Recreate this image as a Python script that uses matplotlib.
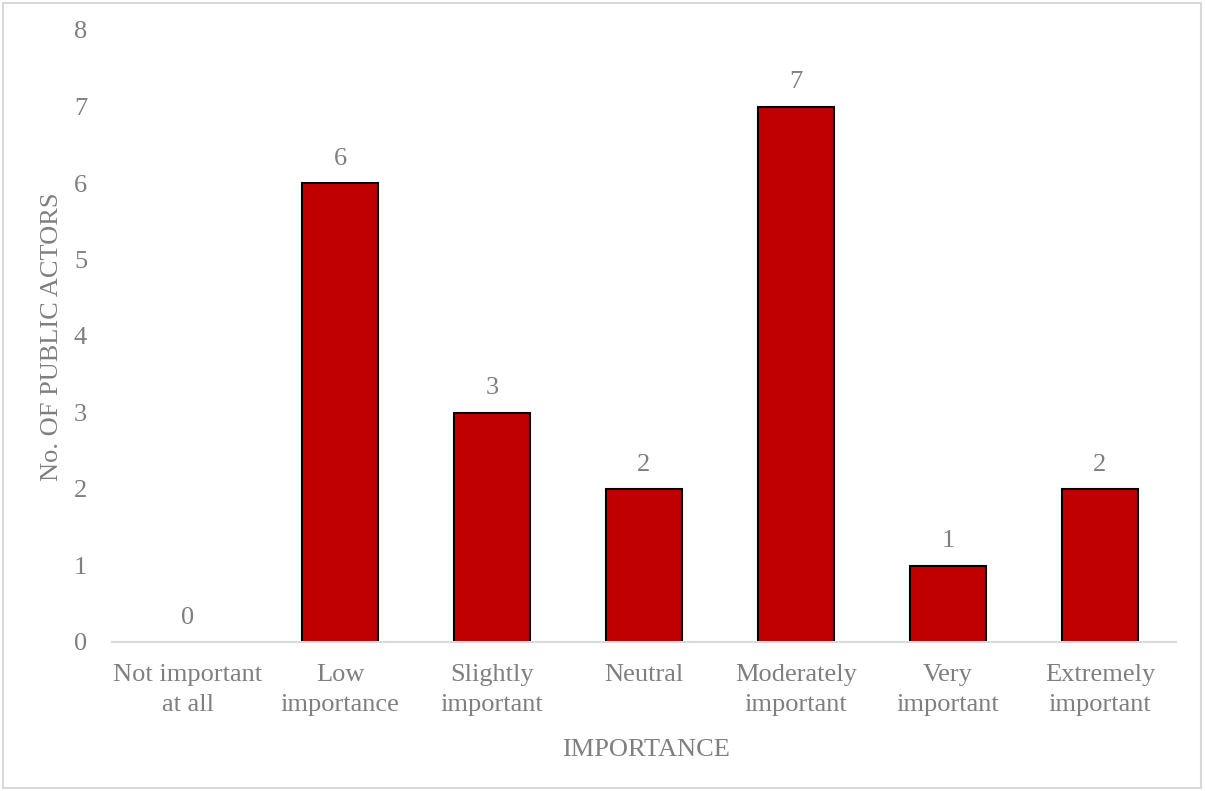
import matplotlib
matplotlib.use("Agg")
import matplotlib.pyplot as plt
from matplotlib.patches import Rectangle

categories = ["Not important\nat all", "Low\nimportance", "Slightly\nimportant",
              "Neutral", "Moderately\nimportant", "Very\nimportant", "Extremely\nimportant"]
counts = [0, 6, 3, 2, 7, 1, 2]
y_ticks = [0, 1, 2, 3, 4, 5, 6, 7, 8]

plt.rcParams["font.family"] = ["Liberation Serif", "DejaVu Serif"]
gray = "#7f7f7f"

fig = plt.figure(figsize=(12.05, 7.91), dpi=100)
ax = fig.add_axes([112 / 1205, 1 - 642 / 791, (1176 - 112) / 1205, (642 - 30) / 791])

x = list(range(len(categories)))
edge_widths = [1.5 if v > 0 else 0 for v in counts]
ax.bar(x, counts, width=0.5, color="#c00000", edgecolor="black", linewidth=edge_widths, zorder=3)
for xi, v in zip(x, counts):
    ax.text(xi, v + 0.17, str(v), ha="center", va="bottom", fontsize=19, color=gray)

ax.set_xlim(-0.5, len(categories) - 0.5)
ax.set_ylim(0, 8)
ax.set_yticks(y_ticks)
ax.set_xticks(x)
ax.set_xticklabels(categories, fontsize=19, color=gray, linespacing=1.45)
ax.tick_params(axis="y", labelsize=19, colors=gray, length=0, pad=18)
ax.tick_params(axis="x", length=0, pad=16)
for side in ["top", "right", "left"]:
    ax.spines[side].set_visible(False)
ax.spines["bottom"].set_color("#d9d9d9")
ax.spines["bottom"].set_linewidth(1.5)
ax.spines["bottom"].set_zorder(4)

fig.text(646 / 1205, 1 - 750 / 791, "IMPORTANCE", ha="center", va="center", fontsize=19, color=gray)
fig.text(52 / 1205, 1 - 337 / 791, "No. OF PUBLIC ACTORS", ha="center", va="center",
         rotation=90, fontsize=19, color=gray)

fig.add_artist(Rectangle((3 / 1205, 3 / 791), 1198 / 1205, 785 / 791, transform=fig.transFigure,
                         fill=False, edgecolor="#d9d9d9", linewidth=1.5))

fig.savefig("out.png", dpi=100)
